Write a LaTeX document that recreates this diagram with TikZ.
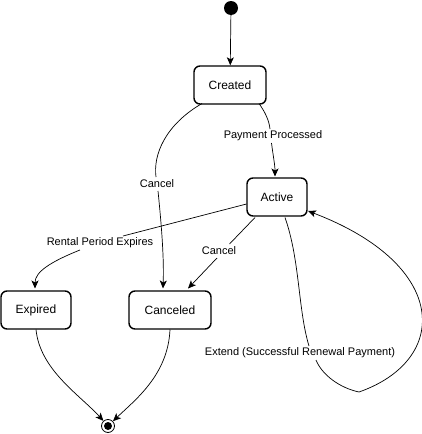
\documentclass[tikz,border=0pt]{standalone}
\usepackage{fontspec}
\setmainfont{Liberation Sans}
\usetikzlibrary{arrows.meta}
\begin{document}
\begin{tikzpicture}[x=1pt,y=-1pt,
  state/.style={draw,line width=1.4pt,rounded corners=6pt,minimum height=38pt,font=\fontsize{12}{14}\selectfont},
  lbl/.style={inner sep=1.5pt,font=\fontsize{11}{13}\selectfont},
  ln/.style={draw,line width=0.7pt},
  tr/.style={ln,-{Stealth[length=8pt,width=7pt,inset=2pt]}}]
\useasboundingbox (0,0) rectangle (422,434);
\node[circle,fill=black,minimum size=14pt,inner sep=0pt] (init) at (231,8) {};
\node[state,minimum width=72pt] (created) at (230,85) {Created};
\node[state,minimum width=60pt] (active) at (277,197) {Active};
\node[state,minimum width=70pt] (expired) at (36,310) {Expired};
\node[state,minimum width=82pt] (canceled) at (170,310) {Canceled};
\node[circle,draw,line width=0.8pt,minimum size=13pt,inner sep=0pt] (final) at (108,426) {};
\node[circle,fill=black,minimum size=8pt,inner sep=0pt] (finaldot) at (final) {};
% labels
\node[lbl] (lpp) at (273,136) {Payment Processed};
\node[lbl] (lc1) at (157,184) {Cancel};
\node[lbl] (lre) at (100,243) {Rental Period Expires};
\node[lbl] (lc2) at (219,251) {Cancel};
\node[lbl] (lex) at (300,353) {Extend (Successful Renewal Payment)};
% edge coordinates (gaps at labels)
\coordinate (c1) at (259,103.5);
\coordinate (g1a) at (270,129);
\coordinate (g1b) at (271.5,143);
\coordinate (a1) at (275,176.5);
\coordinate (c2) at (202,103.5);
\coordinate (g2a) at (156,177);
\coordinate (g2b) at (158,191);
\coordinate (k1) at (163,288.5);
\coordinate (a2) at (246.5,204);
\coordinate (g3a) at (123,236);
\coordinate (g3b) at (80,250);
\coordinate (e1) at (35,288.5);
\coordinate (a3) at (255,217.5);
\coordinate (g4a) at (229.5,244);
\coordinate (g4b) at (217,258);
\coordinate (k2) at (188,288.5);
\coordinate (a4) at (285,217.5);
\coordinate (g5a) at (309,346);
\coordinate (g5b) at (316,360);
\coordinate (lp) at (359,392);
\coordinate (a5) at (308,211);
\coordinate (x1) at (36,329.5);
\coordinate (x2) at (170,329.5);
% edges
\draw[tr] (init) -- (created);
\draw[ln] (c1) .. controls (265,112) and (269,120) .. (g1a);
\draw[tr] (g1b) .. controls (273,155) and (275,165) .. (a1);
\draw[ln] (c2) .. controls (165,125) and (153,155) .. (g2a);
\draw[tr] (g2b) .. controls (162,230) and (164,260) .. (k1);
\draw[ln] (a2) -- (g3a);
\draw[tr] (g3b) .. controls (50,262) and (35,272) .. (e1);
\draw[ln] (a3) -- (g4a);
\draw[tr] (g4b) -- (k2);
\draw[ln] (a4) .. controls (300,260) and (298,310) .. (g5a);
\draw[ln] (g5b) .. controls (322,375) and (340,388) .. (lp);
\draw[tr] (lp) .. controls (450,360) and (450,265) .. (a5);
\draw[tr] (x1) .. controls (40,370) and (80,395) .. (final);
\draw[tr] (x2) .. controls (168,375) and (135,400) .. (final);
\end{tikzpicture}
\end{document}
